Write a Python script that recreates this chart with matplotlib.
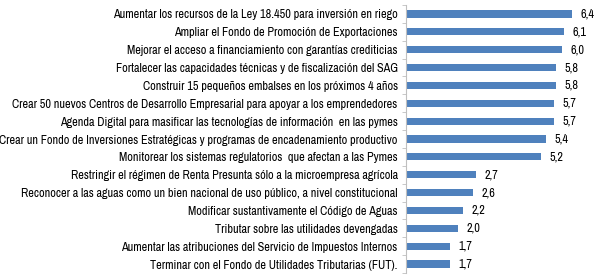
import matplotlib
matplotlib.use("Agg")
import matplotlib.pyplot as plt
from matplotlib import font_manager

names = {f.name for f in font_manager.fontManager.ttflist}
fam = next((n for n in ["Archivo Narrow", "PT Sans Narrow", "Roboto Condensed", "Liberation Sans"] if n in names), "DejaVu Sans")

categories = [
    "Aumentar los recursos de la Ley 18.450 para inversión en riego",
    "Ampliar el Fondo de Promoción de Exportaciones",
    "Mejorar el acceso a financiamiento con garantías crediticias",
    "Fortalecer las capacidades técnicas y de fiscalización del SAG",
    "Construir 15 pequeños embalses en los próximos 4 años",
    "Crear 50 nuevos Centros de Desarrollo Empresarial para apoyar a los emprendedores",
    "Agenda Digital para masificar las tecnologías de información  en las pymes",
    "Crear un Fondo de Inversiones Estratégicas y programas de encadenamiento productivo",
    "Monitorear los sistemas regulatorios  que afectan a las Pymes",
    "Restringir el régimen de Renta Presunta sólo a la microempresa agrícola",
    "Reconocer a las aguas como un bien nacional de uso público, a nivel constitucional",
    "Modificar sustantivamente el Código de Aguas",
    "Tributar sobre las utilidades devengadas",
    "Aumentar las atribuciones del Servicio de Impuestos Internos",
    "Terminar con el Fondo de Utilidades Tributarias (FUT).",
]
values = [6.4, 6.1, 6.0, 5.8, 5.8, 5.7, 5.7, 5.4, 5.2, 2.7, 2.6, 2.2, 2.0, 1.7, 1.7]

plt.rcParams['font.family'] = [fam, 'DejaVu Sans']

fig = plt.figure(figsize=(6, 2.8), dpi=100)
ax = fig.add_axes([406/600, 7/280, 192/600, 268/280])
ypos = list(range(len(categories)))
ax.barh(ypos, values, height=0.4, color="#4F81BD")
ax.set_ylim(len(categories) - 0.5, -0.5)
ax.set_xlim(0, 7.4)
ax.set_yticks(ypos)
ax.set_yticklabels(categories, fontsize=8.8)
ax.tick_params(axis='y', which='major', length=0, pad=6)
ax.set_yticks([i - 0.5 for i in range(len(categories) + 1)], minor=True)
ax.tick_params(axis='y', which='minor', length=3, color="#BFBFBF")
ax.set_xticks([])
for s in ['top', 'right', 'bottom']:
    ax.spines[s].set_visible(False)
ax.spines['left'].set_color("#BFBFBF")
for y, v in zip(ypos, values):
    ax.annotate(f"{v:.1f}".replace('.', ','), (v, y), xytext=(6, 0),
                textcoords='offset points', va='center', ha='left', fontsize=8.8)
fig.savefig("out.png", dpi=100)
